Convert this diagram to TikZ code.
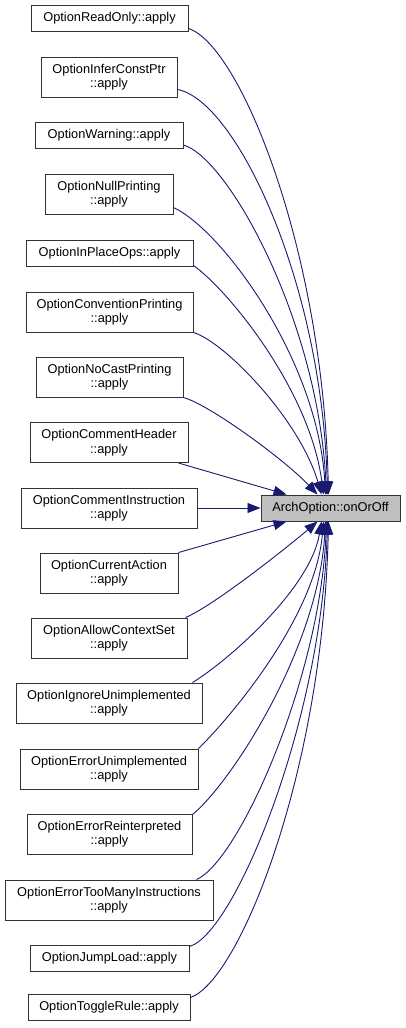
\documentclass[tikz,border=0pt]{standalone}
\usepackage{fontspec}
\setmainfont{Liberation Sans}
\usetikzlibrary{arrows.meta}
\definecolor{edgecol}{HTML}{191970}
\definecolor{boxline}{HTML}{333333}
\definecolor{targetfill}{HTML}{BFBFBF}
\tikzset{
  fn/.style={draw=boxline, line width=1pt, fill=white, rectangle, inner sep=0pt, align=center,
    font=\fontsize{12.8}{14.5}\selectfont, minimum height=#1},
  fn/.default=26pt,
  callee/.style={fn, fill=targetfill},
  calledge/.style={draw=edgecol, line width=0.9pt, -{Triangle[length=13pt,width=10pt]}},
}
\begin{document}
\begin{tikzpicture}[x=1pt,y=-1pt]
\useasboundingbox (0,0) rectangle (405,1028);
\node[callee, minimum width=139pt] (T) at (330.5,508) {ArchOption::onOrOff};
\node[fn, minimum width=157pt] (b1) at (109.5,18) {OptionReadOnly::apply};
\node[fn=40pt, minimum width=136pt] (b2) at (109,77) {OptionInferConstPtr\\::apply};
\node[fn, minimum width=148pt] (b3) at (109,135.5) {OptionWarning::apply};
\node[fn=40pt, minimum width=128pt] (b4) at (109,194) {OptionNullPrinting\\::apply};
\node[fn, minimum width=167pt] (b5) at (109.5,253) {OptionInPlaceOps::apply};
\node[fn=40pt, minimum width=167pt] (b6) at (109.5,312) {OptionConventionPrinting\\::apply};
\node[fn=40pt, minimum width=147pt] (b7) at (109.5,377) {OptionNoCastPrinting\\::apply};
\node[fn=40pt, minimum width=158pt] (b8) at (109,442.5) {OptionCommentHeader\\::apply};
\node[fn=40pt, minimum width=176pt] (b9) at (109,508) {OptionCommentInstruction\\::apply};
\node[fn=40pt, minimum width=138pt] (b10) at (109,573) {OptionCurrentAction\\::apply};
\node[fn=40pt, minimum width=156pt] (b11) at (109,638) {OptionAllowContextSet\\::apply};
\node[fn=40pt, minimum width=186pt] (b12) at (109,703) {OptionIgnoreUnimplemented\\::apply};
\node[fn=40pt, minimum width=178pt] (b13) at (109,769) {OptionErrorUnimplemented\\::apply};
\node[fn=40pt, minimum width=165pt] (b14) at (109.5,834) {OptionErrorReinterpreted\\::apply};
\node[fn=40pt, minimum width=208pt] (b15) at (109,900) {OptionErrorTooManyInstructions\\::apply};
\node[fn, minimum width=159pt] (b16) at (109.5,958) {OptionJumpLoad::apply};
\node[fn, minimum width=162pt] (b17) at (109,1007) {OptionToggleRule::apply};
% top group
\draw[calledge] ([yshift=3pt]b1.south east) .. controls (240,45) and (323,250) .. ([xshift=68pt]T.north west);
\draw[calledge] ([yshift=8pt]b2.south east) .. controls (235,100) and (322,280) .. ([xshift=67pt]T.north west);
\draw[calledge] ([yshift=4pt]b3.south east) .. controls (228,158) and (318,320) .. ([xshift=66pt]T.north west);
\draw[calledge] ([yshift=7pt]b4.south east) .. controls (222,230) and (318,360) .. ([xshift=65pt]T.north west);
\draw[calledge] ([yshift=1pt]b5.south east) .. controls (228,290) and (310,390) .. ([xshift=63pt]T.north west);
\draw[calledge] (b6.south east) .. controls (225,342) and (300,420) .. ([xshift=61pt]T.north west);
\draw[calledge] (b7.south east) .. controls (210,405) and (285,460) .. ([xshift=57pt]T.north west);
\draw[calledge] ([xshift=-10pt]b8.south east) -- ([xshift=26pt]T.north west);
\draw[calledge] (b9.east) -- (T.west);
% bottom group
\draw[calledge] (b10.north east) -- ([xshift=26pt]T.south west);
\draw[calledge] ([xshift=-2pt]b11.north east) .. controls (215,605) and (290,545) .. ([xshift=57pt]T.south west);
\draw[calledge] ([xshift=-10pt]b12.north east) .. controls (225,663) and (310,590) .. ([xshift=61pt]T.south west);
\draw[calledge] (b13.north east) .. controls (225,723) and (315,620) .. ([xshift=63pt]T.south west);
\draw[calledge] ([yshift=-1pt]b14.north east) .. controls (230,784) and (318,650) .. ([xshift=65pt]T.south west);
\draw[calledge] ([xshift=-17pt]b15.north east) .. controls (238,862) and (320,680) .. ([xshift=66pt]T.south west);
\draw[calledge] ([yshift=-2pt]b16.north east) .. controls (235,933) and (322,720) .. ([xshift=67pt]T.south west);
\draw[calledge] ([yshift=-4pt]b17.north east) .. controls (240,980) and (323,770) .. ([xshift=68pt]T.south west);
\end{tikzpicture}
\end{document}
